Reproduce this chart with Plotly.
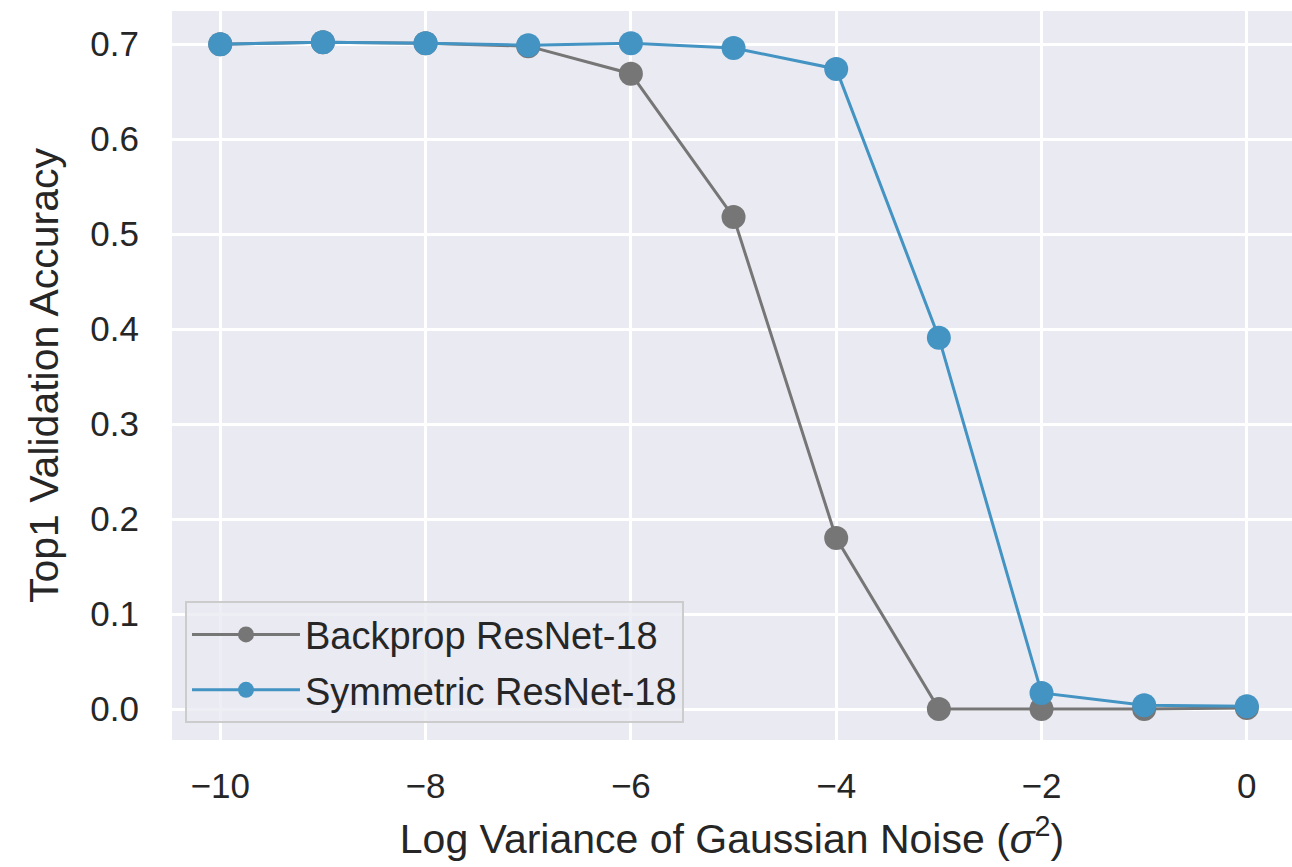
import plotly.graph_objects as go

log_var = [-10, -9, -8, -7, -6, -5, -4, -3, -2, -1, 0]
backprop = [0.700, 0.702, 0.701, 0.698, 0.669, 0.518, 0.180, 0.000, 0.000, 0.000, 0.001]
symmetric = [0.700, 0.702, 0.701, 0.699, 0.701, 0.696, 0.674, 0.391, 0.017, 0.004, 0.003]

x_ticks = [-10, -8, -6, -4, -2, 0]
x_tick_labels = ["−10", "−8", "−6", "−4", "−2", "0"]
y_ticks = [0.0, 0.1, 0.2, 0.3, 0.4, 0.5, 0.6, 0.7]
y_tick_labels = ["0.0", "0.1", "0.2", "0.3", "0.4", "0.5", "0.6", "0.7"]

GRAY = "#767676"
BLUE = "#4393c3"
TXT = "#262626"
FONT = "Liberation Sans, Arial, sans-serif"

fig = go.Figure()
fig.add_trace(go.Scatter(
    x=log_var, y=backprop, mode="lines+markers", name="Backprop ResNet-18",
    legendgroup="a",
    line=dict(color=GRAY, width=3),
    marker=dict(color=GRAY, size=24, line=dict(width=0)),
))
fig.add_trace(go.Scatter(
    x=log_var, y=symmetric, mode="lines+markers", name="Symmetric ResNet-18",
    legendgroup="b",
    line=dict(color=BLUE, width=3),
    marker=dict(color=BLUE, size=24, line=dict(width=0)),
))

fig.update_layout(
    width=1292, height=867,
    margin=dict(l=172, r=0, t=11, b=127),
    paper_bgcolor="white",
    plot_bgcolor="#EAEAF2",
    font=dict(family=FONT, color=TXT, size=35),
    legend=dict(
        x=0.0116, y=0.023, xanchor="left", yanchor="bottom",
        bgcolor="rgba(234,234,242,0.8)", bordercolor="#cccccc", borderwidth=2,
        font=dict(size=38, color=TXT, family=FONT),
        tracegroupgap=3, itemwidth=108,
    ),
    showlegend=True,
)
fig.update_xaxes(
    range=[-10.47, 0.44],
    tickvals=x_ticks, ticktext=x_tick_labels,
    showgrid=True, gridcolor="white", gridwidth=3,
    zeroline=False, showline=False, ticks="",
    ticklabelstandoff=22,
    tickfont=dict(size=35, color=TXT, family=FONT),
    title=dict(text="Log Variance of Gaussian Noise (<i>σ</i><sup>2</sup>)",
               font=dict(size=41, color=TXT, family=FONT), standoff=20),
)
fig.update_yaxes(
    range=[-0.0326, 0.735],
    tickvals=y_ticks, ticktext=y_tick_labels,
    showgrid=True, gridcolor="white", gridwidth=3,
    zeroline=False, showline=False, ticks="",
    ticklabelstandoff=32,
    tickfont=dict(size=35, color=TXT, family=FONT),
    title=dict(text="Top1 Validation Accuracy",
               font=dict(size=41, color=TXT, family=FONT), standoff=18),
)

fig.write_html("out.html")
